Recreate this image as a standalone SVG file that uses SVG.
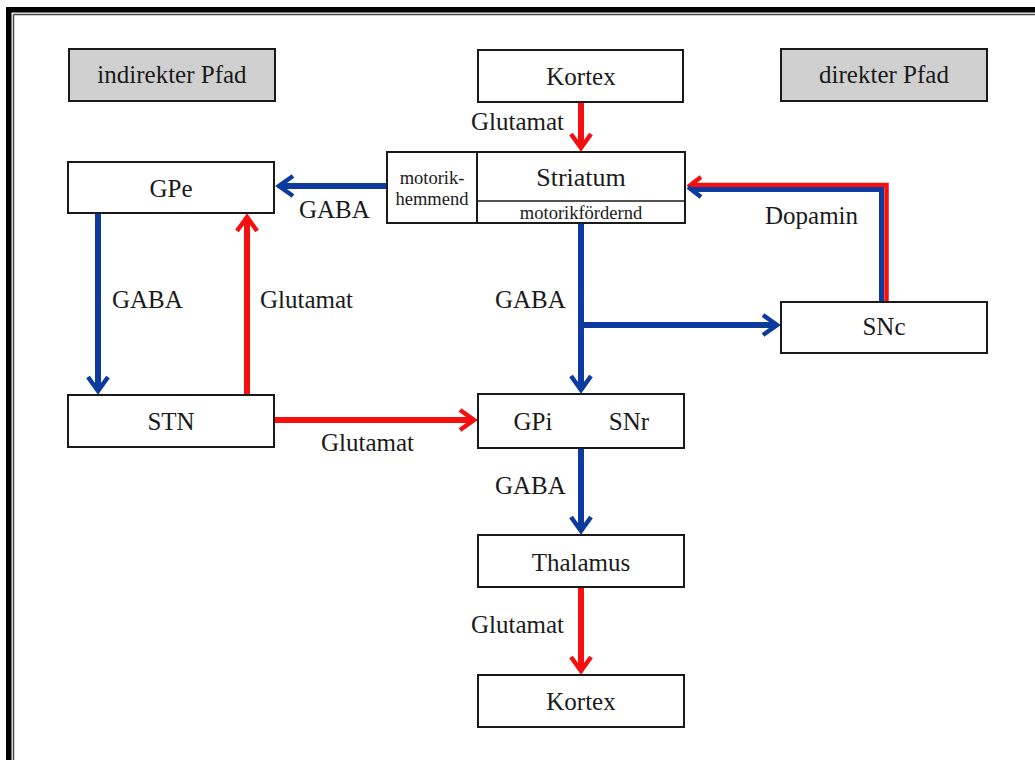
<svg xmlns="http://www.w3.org/2000/svg" width="1035" height="760" viewBox="0 0 1035 760">
<style>
.n{fill:#fff;stroke:#1a1a1a;stroke-width:2}
.g{fill:#d0d0d0;stroke:#1a1a1a;stroke-width:2}
text{font-family:"Liberation Serif","Times New Roman",serif;fill:#1a1a1a}
.t{font-size:25px;text-anchor:middle}
.s{font-size:18.5px;text-anchor:middle}
.l{font-size:25px}
.r{fill:none;stroke:#f50f0f;stroke-width:6}
.b{fill:none;stroke:#0c3a9e;stroke-width:6}
</style>
<defs>
<marker id="mr" markerUnits="userSpaceOnUse" orient="auto" overflow="visible" markerWidth="30" markerHeight="30" refX="0" refY="0">
<path d="M-14,-10 L0,0 L-14,10" fill="none" stroke="#f50f0f" stroke-width="4.5"/>
</marker>
<marker id="mb" markerUnits="userSpaceOnUse" orient="auto" overflow="visible" markerWidth="30" markerHeight="30" refX="0" refY="0">
<path d="M-14,-10 L0,0 L-14,10" fill="none" stroke="#0c3a9e" stroke-width="4.5"/>
</marker>
</defs>
<rect width="1035" height="760" fill="#fff"/>
<g id="frame">
<rect x="6" y="7" width="1029" height="5.5" fill="#000"/>
<rect x="6" y="7" width="5.5" height="753" fill="#000"/>
<line x1="13.5" y1="14.5" x2="1035" y2="14.5" stroke="#444" stroke-width="1.5"/>
<line x1="13.5" y1="14.5" x2="13.5" y2="760" stroke="#444" stroke-width="1.5"/>
</g>
<g id="connectors">
<path class="r" d="M581,102 V148" marker-end="url(#mr)"/>
<path class="b" d="M387,186 H279" marker-end="url(#mb)"/>
<path class="b" d="M98,213 V391" marker-end="url(#mb)"/>
<path class="r" d="M247,395 V217" marker-end="url(#mr)"/>
<path class="r" d="M274,420 H474" marker-end="url(#mr)"/>
<path class="b" d="M581,223 V390" marker-end="url(#mb)"/>
<path class="b" d="M581,325 H777" marker-end="url(#mb)"/>
<path class="b" d="M581,448 V531" marker-end="url(#mb)"/>
<path class="r" d="M581,587 V671" marker-end="url(#mr)"/>
<path d="M886.5,302 V185 H692" fill="none" stroke="#f50f0f" stroke-width="4.5"/>
<path d="M881.5,302 V189.5 H692" fill="none" stroke="#0c3a9e" stroke-width="5"/>
<path d="M701,177 L688,187" fill="none" stroke="#f50f0f" stroke-width="4.5"/>
<path d="M688,187 L701,197" fill="none" stroke="#0c3a9e" stroke-width="4.5"/>
<text class="l" x="471" y="130">Glutamat</text>
<text class="l" x="299" y="218">GABA</text>
<text class="l" x="112" y="308">GABA</text>
<text class="l" x="260" y="308">Glutamat</text>
<text class="l" x="321" y="451">Glutamat</text>
<text class="l" x="495" y="308">GABA</text>
<text class="l" x="765" y="224">Dopamin</text>
<text class="l" x="495" y="494">GABA</text>
<text class="l" x="471" y="633">Glutamat</text>
</g>
<g id="indirekt"><rect class="g" x="69" y="49" width="206" height="52"/><text class="t" x="172" y="83">indirekter Pfad</text></g>
<g id="direkt"><rect class="g" x="781" y="49" width="206" height="52"/><text class="t" x="884" y="83">direkter Pfad</text></g>
<g id="kortex1"><rect class="n" x="478" y="50" width="205" height="52"/><text class="t" x="581" y="85">Kortex</text></g>
<g id="striatum">
<rect class="n" x="387" y="152" width="298" height="71"/>
<line x1="477" y1="152" x2="477" y2="223" stroke="#1a1a1a" stroke-width="2"/>
<line x1="477" y1="201" x2="685" y2="201" stroke="#1a1a1a" stroke-width="1.5"/>
<text class="t" x="581" y="186" style="font-size:26px">Striatum</text>
<text class="s" x="432" y="184">motorik-</text>
<text class="s" x="432" y="205">hemmend</text>
<text class="s" x="581" y="219">motorikfördernd</text>
</g>
<g id="gpe"><rect class="n" x="68" y="162" width="206" height="51"/><text class="t" x="171" y="197">GPe</text></g>
<g id="stn"><rect class="n" x="68" y="395" width="206" height="52"/><text class="t" x="171" y="430">STN</text></g>
<g id="gpi"><rect class="n" x="478" y="394" width="206" height="54"/><text class="t" x="533" y="430">GPi</text><text class="t" x="629" y="430">SNr</text></g>
<g id="snc"><rect class="n" x="781" y="302" width="206" height="51"/><text class="t" x="884" y="335">SNc</text></g>
<g id="thalamus"><rect class="n" x="478" y="535" width="206" height="52"/><text class="t" x="581" y="571">Thalamus</text></g>
<g id="kortex2"><rect class="n" x="478" y="675" width="206" height="52"/><text class="t" x="581" y="710">Kortex</text></g>
</svg>
